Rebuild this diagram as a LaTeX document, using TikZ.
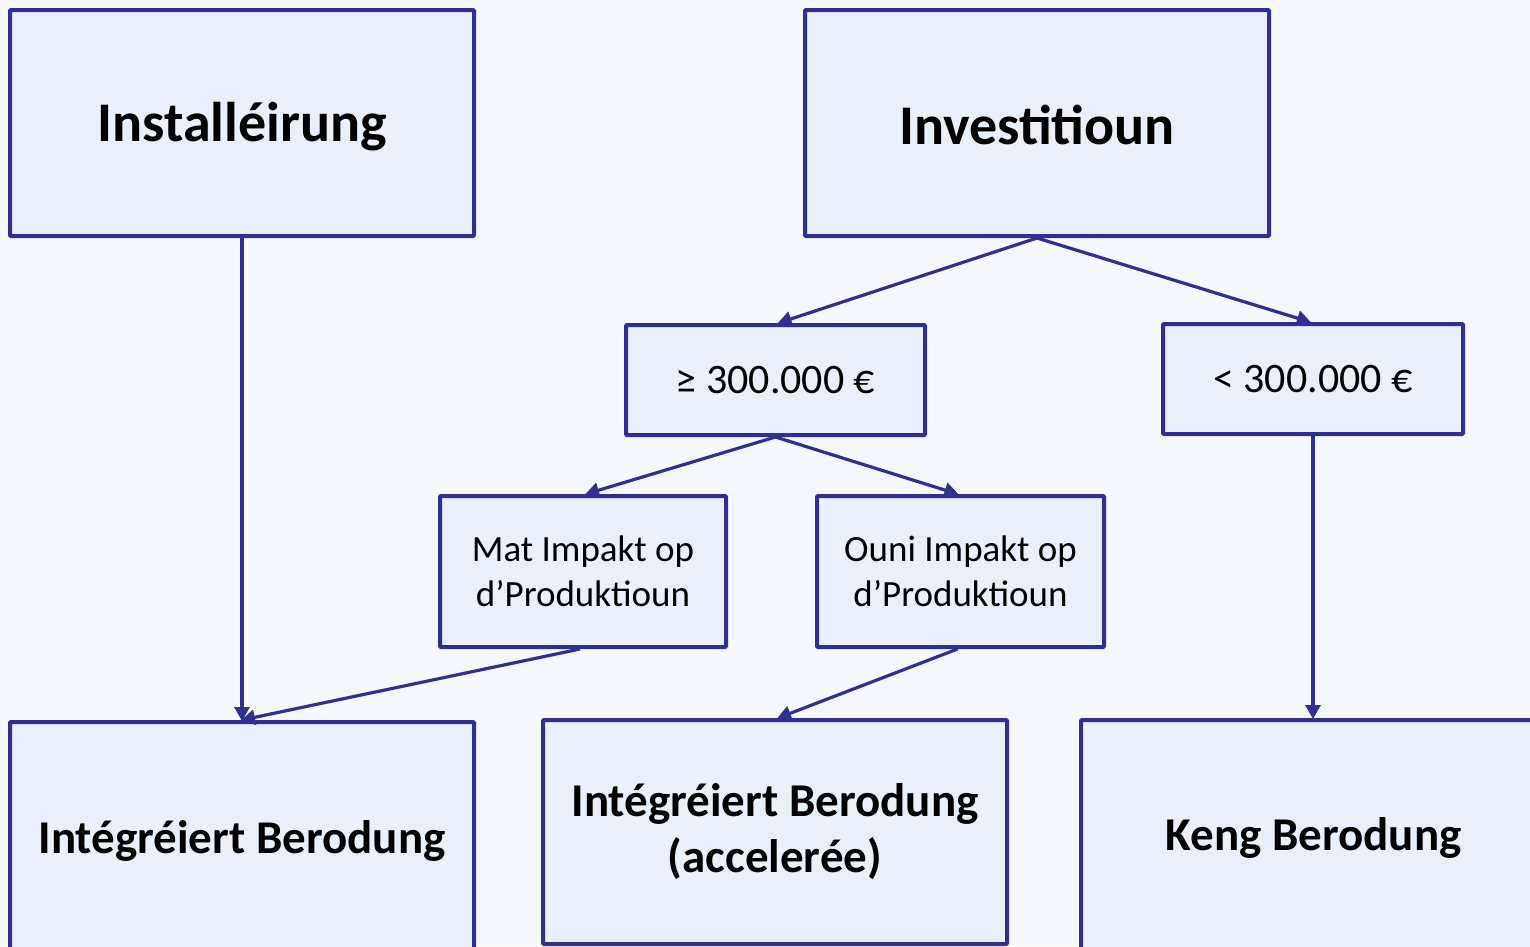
\documentclass[tikz,border=0pt]{standalone}
\usepackage{fontspec}
\setmainfont{Carlito}
\usetikzlibrary{arrows.meta}
\definecolor{edge}{HTML}{2E3192}
\definecolor{boxfill}{HTML}{E8F1FB}
\definecolor{bg}{HTML}{F5F9FD}
\newcommand{\lowertext}[2]{\raisebox{-#1}[\height][\depth]{#2}}
\begin{document}
\begin{tikzpicture}[x=1pt,y=-1pt,
  box/.style={draw=edge,fill=boxfill,line width=4pt,rounded corners=1pt,inner sep=0pt,align=center,text=black},
  big/.style={font=\fontsize{56}{60}\selectfont\bfseries},
  bot/.style={font=\fontsize{47}{56}\selectfont\bfseries},
  mid/.style={font=\fontsize{42}{48}\selectfont},
  sml/.style={font=\fontsize{37}{45}\selectfont},
  conn/.style={draw=edge,line width=3.2pt,-{Triangle[length=14pt,width=15pt]},shorten >=-1pt}]
\fill[bg] (0,0) rectangle (1530,946);
\useasboundingbox (0,0) rectangle (1530,946);
\begin{scope}
\clip (0,0) rectangle (1530,946);
\node[box,big,minimum width=464pt,minimum height=226pt] (inst) at (242,123) {\lowertext{4pt}{Installéirung}};
\node[box,big,minimum width=464pt,minimum height=226pt] (inv) at (1037,123) {\lowertext{2pt}{Investitioun}};
\node[box,mid,minimum width=299pt,minimum height=110pt] (ge) at (775.5,380) {≥ 300.000 €};
\node[box,mid,minimum width=300pt,minimum height=110pt] (lt) at (1313,379) {< 300.000 €};
\node[box,sml,minimum width=286pt,minimum height=151pt] (mat) at (583,571.5) {Mat Impakt op\\d’Produktioun};
\node[box,sml,minimum width=287pt,minimum height=151pt] (ouni) at (960.5,571.5) {Ouni Impakt op\\d’Produktioun};
\node[box,bot,minimum width=464pt,minimum height=230pt] (ib) at (242,837) {\lowertext{4pt}{Intégréiert Berodung}};
\node[box,bot,minimum width=464pt,minimum height=224pt] (iba) at (775,832) {Intégréiert Berodung\\(accelerée)};
\node[box,bot,minimum width=460pt,minimum height=230pt] (keng) at (1311,835) {\hspace*{5pt}\lowertext{3pt}{Keng Berodung}};
\end{scope}
\draw[conn] (inst.south) -- (ib.north);
\draw[conn] (inv.south) -- ([xshift=3pt]ge.north);
\draw[conn] (inv.south) -- ([xshift=-3pt]lt.north);
\draw[conn] (ge.south) -- ([xshift=3pt]mat.north);
\draw[conn] (ge.south) -- ([xshift=-3pt]ouni.north);
\draw[conn] (lt.south) -- ([xshift=2pt]keng.north);
\draw[conn] ([xshift=-3pt]mat.south) -- (ib.north);
\draw[conn] ([xshift=-3pt]ouni.south) -- ([xshift=3pt]iba.north);
\end{tikzpicture}
\end{document}
